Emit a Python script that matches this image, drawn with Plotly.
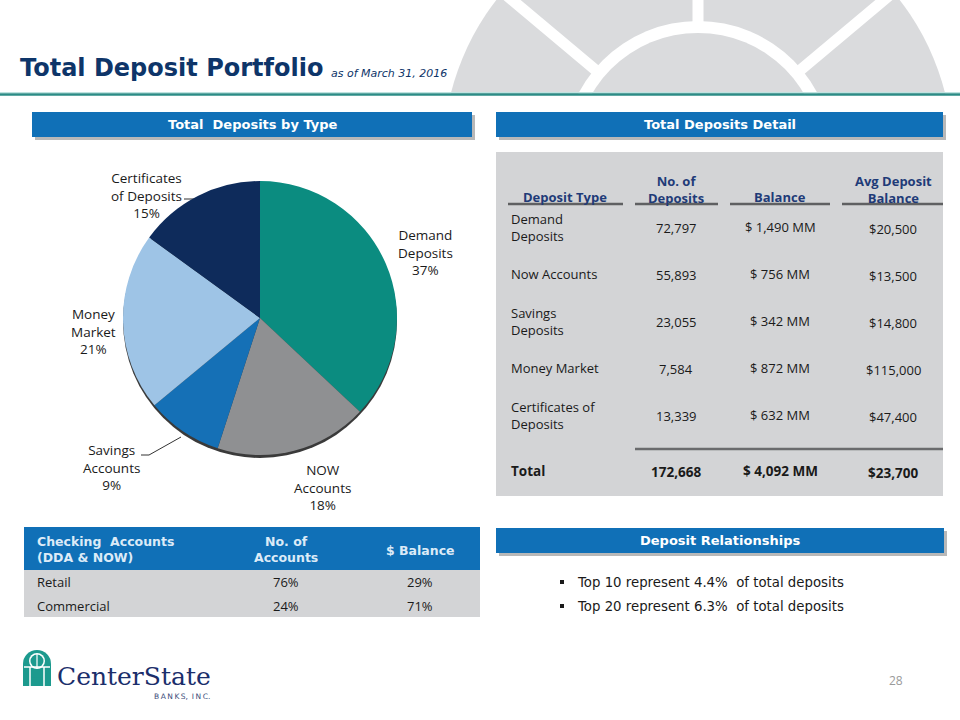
import math
import plotly.graph_objects as go

W, H = 960, 720

# ---------------- data ----------------
pie_labels = ["Demand<br>Deposits", "NOW<br>Accounts", "Savings<br>Accounts",
              "Money<br>Market", "Certificates<br>of Deposits"]
pie_pct = [37, 18, 9, 21, 15]
pie_colors = ["#0B8C80", "#8F9092", "#1570B6", "#9EC4E6", "#0E2B5B"]

detail_header = ["Deposit Type", "No. of<br>Deposits", "Balance", "Avg Deposit<br>Balance"]
detail_types = ["Demand<br>Deposits", "Now Accounts", "Savings<br>Deposits",
                "Money Market", "Certificates of<br>Deposits"]
detail_counts = [72797, 55893, 23055, 7584, 13339]
detail_balance_mm = [1490, 756, 342, 872, 632]
detail_avg = [20500, 13500, 14800, 115000, 47400]
total_label = "Total"
total_count = 172668
total_balance_mm = 4092
total_avg = 23700

checking_header = ["Checking  Accounts<br>(DDA & NOW)", "No. of<br>Accounts", "$ Balance"]
checking_segments = ["Retail", "Commercial"]
checking_accounts_pct = [76, 24]
checking_balance_pct = [29, 71]

relationship_bullets = ["Top 10 represent 4.4%  of total deposits",
                        "Top 20 represent 6.3%  of total deposits"]

page_number = "28"

# ---------------- layout helpers ----------------
NAVY = "#0E3569"
BLUE = "#1070B7"
GRAY_BOX = "#D3D4D6"
TXT = "#1A1A1A"
VERDANA = "DejaVu Sans, Verdana, sans-serif"
TAHOMA = "Open Sans, Tahoma, sans-serif"

shapes = []
annotations = []


def rect(x0, y0, x1, y1, color, layer="below", line=None):
    shapes.append(dict(type="rect", xref="x", yref="y", x0=x0, y0=y0, x1=x1, y1=y1,
                       fillcolor=color, line=dict(width=0) if line is None else line,
                       layer=layer))


def circle(cx, cy, r, color, layer="below"):
    shapes.append(dict(type="circle", xref="x", yref="y", x0=cx - r, y0=cy - r,
                       x1=cx + r, y1=cy + r, fillcolor=color, line=dict(width=0),
                       layer=layer))


def line(x0, y0, x1, y1, color, width, layer="below"):
    shapes.append(dict(type="line", xref="x", yref="y", x0=x0, y0=y0, x1=x1, y1=y1,
                       line=dict(color=color, width=width), layer=layer))


def text(x, y, s, size, color=TXT, family=TAHOMA, xanchor="center", align="center",
         yanchor="middle"):
    annotations.append(dict(x=x, y=y, xref="x", yref="y", text=s, showarrow=False,
                            xanchor=xanchor, yanchor=yanchor, align=align,
                            font=dict(size=size, color=color, family=family)))


# ---------------- watermark (top right) ----------------
WM = "#DADBDD"
wcx, wcy = 698, 156
circle(wcx, wcy, 255, WM)
for ang in (0, 50, -50, 100, -100):
    a = math.radians(ang)
    line(wcx, wcy, wcx + 320 * math.sin(a), wcy - 320 * math.cos(a), "white", 11)
circle(wcx, wcy, 135, "white")
circle(wcx, wcy, 123, WM)
rect(0, 94, W, H, "white")

# teal rule under title
line(0, 92.5, W, 92.5, "#BFE3E0", 1)
line(0, 94.5, W, 94.5, "#2C8C86", 2.5)

# ---------------- title ----------------
text(18, 68, "<b>Total Deposit Portfolio</b>", 24, NAVY, VERDANA, xanchor="left")
text(329, 73, "<i>as of March 31, 2016</i>", 11, NAVY, VERDANA, xanchor="left")


# ---------------- section header bars ----------------
def header_bar(x0, y0, x1, y1, label):
    rect(x0 + 3, y0 + 3, x1 + 3, y1 + 3, "rgba(0,0,0,0.28)")
    rect(x0, y0, x1, y1, BLUE)
    text((x0 + x1) / 2, (y0 + y1) / 2, "<b>" + label + "</b>", 13, "white", VERDANA)


header_bar(32, 112, 472, 137, "Total  Deposits by Type")
header_bar(496, 112, 943, 137, "Total Deposits Detail")
header_bar(496, 528, 944, 553, "Deposit Relationships")

# ---------------- pie ----------------
pcx, pcy, pr = 260, 318, 137
circle(pcx, pcy + 3, pr, "#3A3A3A")  # 3D edge under the pie

pie = go.Pie(
    values=pie_pct,
    labels=[l.replace("<br>", " ") for l in pie_labels],
    marker=dict(colors=pie_colors, line=dict(width=0)),
    sort=False, direction="clockwise", rotation=0,
    textinfo="none", hoverinfo="label+percent", showlegend=False,
    domain=dict(x=[(pcx - pr) / W, (pcx + pr) / W],
                y=[1 - (pcy + pr) / H, 1 - (pcy - pr) / H]),
)

# label placement (layout positions for each slice's label)
label_pos = [(425, 252), (322, 487), (111, 467), (93, 331), (146, 195)]
for lab, pct, (lx, ly) in zip(pie_labels, pie_pct, label_pos):
    text(lx, ly, f"{lab}<br>{pct}%", 13.5, TXT, TAHOMA)
# leader lines
line(184, 199, 198, 199, "#333333", 1)
shapes.append(dict(type="path", xref="x", yref="y", path="M141,455 L149,455 L181,437",
                   line=dict(color="#333333", width=1), layer="below"))

# ---------------- detail table ----------------
rect(496, 152, 943, 496, GRAY_BOX)
col_c = [565, 676, 780, 893]
col_span = [(508, 623), (635, 718), (730, 830), (842, 943)]
HDR = "#1F3B78"
for i, h in enumerate(detail_header):
    if "<br>" in h:
        text(col_c[i], 189.5, "<b>" + h + "</b>", 13, HDR, TAHOMA)
    else:
        text(col_c[i], 197, "<b>" + h + "</b>", 13, HDR, TAHOMA)
    line(col_span[i][0], 204, col_span[i][1], 204, "#5F6062", 2.5)

row_y = [228, 275, 322, 369, 416]
for i in range(len(detail_types)):
    y = row_y[i]
    text(509, y - 1, detail_types[i], 13, TXT, TAHOMA, xanchor="left", align="left")
    text(col_c[1], y, f"{detail_counts[i]:,}", 13, TXT, TAHOMA)
    text(col_c[2], y - 1, f"$ {detail_balance_mm[i]:,} MM", 13, TXT, TAHOMA)
    text(col_c[3], y + 1, f"${detail_avg[i]:,}", 13, TXT, TAHOMA)

line(635, 449, 943, 449, "#6A6B6D", 2.5)
text(509, 471, "<b>" + total_label + "</b>", 13.5, TXT, TAHOMA, xanchor="left")
text(col_c[1], 472, f"<b>{total_count:,}</b>", 13.5, TXT, TAHOMA)
text(col_c[2], 471, f"<b>$ {total_balance_mm:,} MM</b>", 13.5, TXT, TAHOMA)
text(col_c[3], 473, f"<b>${total_avg:,}</b>", 13.5, TXT, TAHOMA)

# ---------------- checking accounts table ----------------
rect(24, 527, 480, 570, BLUE)
rect(24, 570, 480, 617, GRAY_BOX)
CH = "#DCEBF7"
text(35, 549.5, "<b>" + checking_header[0] + "</b>", 12.5, CH, VERDANA, xanchor="left", align="left")
text(286, 549.5, "<b>" + checking_header[1] + "</b>", 12.5, CH, VERDANA)
text(420, 550, "<b>" + checking_header[2] + "</b>", 12.5, CH, VERDANA)
seg_y = [582, 606]
for i, seg in enumerate(checking_segments):
    text(35, seg_y[i], seg, 13, TXT, TAHOMA, xanchor="left")
    text(286, seg_y[i], f"{checking_accounts_pct[i]}%", 13, TXT, TAHOMA)
    text(420, seg_y[i], f"{checking_balance_pct[i]}%", 13, TXT, TAHOMA)

# ---------------- bullets ----------------
bul_y = [582, 606]
for i, b in enumerate(relationship_bullets):
    rect(560, bul_y[i] - 2, 564, bul_y[i] + 2, "#1A1A1A", layer="above")
    text(575, bul_y[i], b, 13.3, TXT, VERDANA, xanchor="left")

# ---------------- page number ----------------
text(896, 680, page_number, 12, "#9A9A9A", TAHOMA)

# ---------------- logo ----------------
TEAL = "#1C9A8E"
rect(23, 664, 51, 686, TEAL)
circle(37, 664, 14, TEAL)
circle(37, 661, 8, "white")
circle(37, 661, 6.5, TEAL)
line(30, 667, 30, 686, "white", 1.5)
line(44, 667, 44, 686, "white", 1.5)
line(24, 667, 50, 667, "white", 1.5)
line(37, 654, 37, 668, "white", 1.2)
text(55, 676, "CenterState", 25, "#1B2E6B", "DejaVu Serif, Liberation Serif, serif",
     xanchor="left")
text(212, 696, "B\u2009A\u2009N\u2009K\u2009S,\u2009 I\u2009N\u2009C.", 7.5, "#3C4D7A",
     VERDANA, xanchor="right")

# ---------------- figure ----------------
fig = go.Figure(pie)
fig.update_layout(
    width=W, height=H,
    margin=dict(l=0, r=0, t=0, b=0),
    paper_bgcolor="white", plot_bgcolor="white",
    xaxis=dict(range=[0, W], visible=False, fixedrange=True),
    yaxis=dict(range=[H, 0], visible=False, fixedrange=True),
    shapes=shapes, annotations=annotations,
)
fig.write_html("out.html", config={"displayModeBar": False},
               post_script="document.body.style.margin='0px';document.body.style.padding='0px';")
